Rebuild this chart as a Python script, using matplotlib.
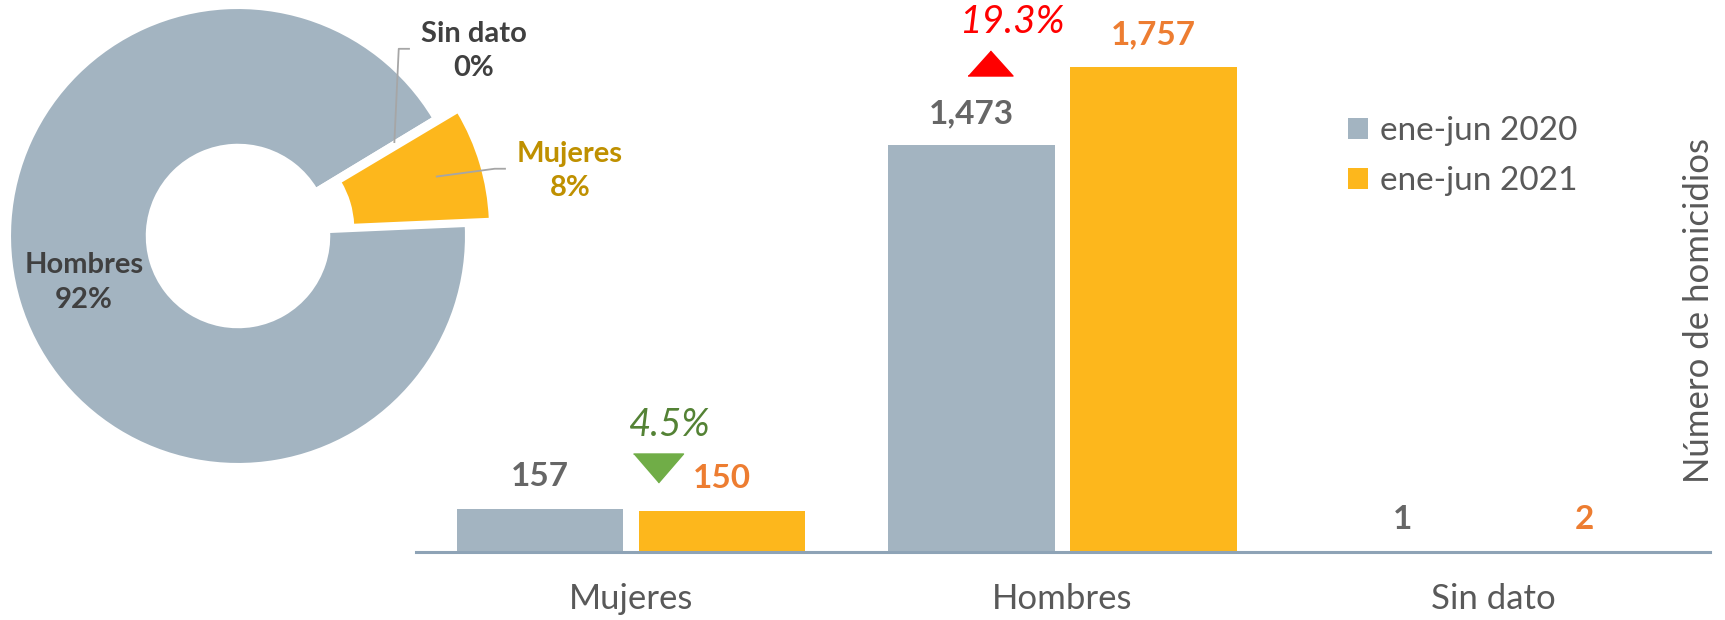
import matplotlib
matplotlib.use('Agg')
import matplotlib.pyplot as plt
import numpy as np

# ---------------- data ----------------
categories = ['Mujeres', 'Hombres', 'Sin dato']
series_names = ['ene-jun 2020', 'ene-jun 2021']
values_2020 = [157, 1473, 1]
values_2021 = [150, 1757, 2]
change_labels = ['4.5%', '19.3%']      # Mujeres (baja), Hombres (sube)
change_up = [False, True]
donut_labels = ['Mujeres', 'Hombres', 'Sin dato']
donut_values = values_2021
y_label = 'Número de homicidios'

plt.rcParams['font.family'] = ['Lato', 'DejaVu Sans']

W, H = 1725, 620
fig = plt.figure(figsize=(W / 100, H / 100), dpi=100)


def px_axes(left, top, width, height):
    return fig.add_axes([left / W, 1 - (top + height) / H, width / W, height / H])


C20 = '#A3B4C1'
C21 = '#FDB71C'
TXT = '#595959'

# ---------------- bar chart ----------------
ax = px_axes(415.5, 0, 1294, 552)
ax.patch.set_alpha(0)
x = np.arange(len(categories))
bw, off = 0.385, 0.211
b1 = ax.bar(x - off, values_2020, bw, color=C20, label=series_names[0], zorder=2, linewidth=0)
b2 = ax.bar(x + off, values_2021, bw, color=C21, label=series_names[1], zorder=2, linewidth=0)
ax.set_xlim(-0.5, 2.5)
ax.set_ylim(0, 2000)
for s in ['top', 'right', 'left', 'bottom']:
    ax.spines[s].set_visible(False)
ax.axhline(0, color='#8EA3B6', lw=2.2, zorder=3, clip_on=False)
ax.set_yticks([])
ax.set_xticks(x, categories)
ax.tick_params(axis='x', length=0, pad=22, labelsize=25, labelcolor=TXT)

for bars, vals, col in [(b1, values_2020, '#666666'), (b2, values_2021, '#ED7D31')]:
    for r, v in zip(bars, vals):
        ax.annotate(f'{v:,}', (r.get_x() + r.get_width() / 2, r.get_height()),
                    xytext=(0, 23), textcoords='offset points', ha='center', va='center',
                    fontsize=24, fontweight='bold', color=col)

# change markers
tri_up = [(-1, -0.556), (1, -0.556), (0, 0.556)]
tri_dn = [(-1, 0.58), (1, 0.58), (0, -0.58)]
change_x_off = [0.062, -0.169]
change_txt_off = [0.090, -0.117]
change_tri_y = [306, 1773]
change_txt_y = [460, 1920]
for i, (lab, up) in enumerate(zip(change_labels, change_up)):
    col_m = '#FF0000' if up else '#70AD47'
    col_t = '#FF0000' if up else '#548235'
    ax.plot([x[i] + change_x_off[i]], [change_tri_y[i]], ls='none',
            marker=tri_up if up else tri_dn, markersize=32.4 if up else 36,
            color=col_m, clip_on=False)
    ax.text(x[i] + change_txt_off[i], change_txt_y[i], lab, ha='center', va='center',
            fontsize=28 if up else 27.5, fontstyle='italic', color=col_t)

leg = ax.legend(handles=[b1, b2], loc='upper left', bbox_to_anchor=(1348 / W, 1 - 116 / H),
                bbox_transform=fig.transFigure, frameon=False, fontsize=24,
                handlelength=0.6, handleheight=0.6, handletextpad=0.35,
                labelspacing=0.6, borderpad=0, borderaxespad=0, labelcolor=TXT)

ax.yaxis.set_label_position('right')
ax.set_ylabel(y_label, fontsize=25, color=TXT, rotation=90)
ax.yaxis.set_label_coords((1699 - 415.5) / 1294, 1 - 310 / 552)
ax.yaxis.label.set_ha('center')
ax.yaxis.label.set_va('center')

# ---------------- donut ----------------
R = 228
cx, cy = 238, 236
half = 1.3 * R
pax = px_axes(cx - half, cy - half, 2 * half, 2 * half)
pax.set_zorder(ax.get_zorder() + 1)
wedges, _ = pax.pie(donut_values, colors=[C21, C20, '#7F7F7F'], startangle=30.8,
                    counterclock=False, explode=[0.11, 0, 0], radius=1,
                    wedgeprops=dict(width=0.6, edgecolor='white', linewidth=1.5))
pax.set_xlim(-1.3, 1.3)
pax.set_ylim(-1.3, 1.3)
pax.set_axis_off()
pax.patch.set_alpha(0)

total = sum(donut_values)
pcts = [f'{100 * v / total:.0f}%' for v in donut_values]
label_xy = [(1.456, 0.285), (-0.675, -0.204), (1.035, 0.811)]
label_col = ['#BF9000', '#404040', '#404040']
for i, (lab, p) in enumerate(zip(donut_labels, pcts)):
    lx, ly = label_xy[i]
    pax.text(lx, ly, f'{lab}\n{p}', ha='center', va='center', fontsize=21,
             fontweight='bold', color=label_col[i], linespacing=1.4)

for i in [0, 2]:
    w = wedges[i]
    th = np.deg2rad((w.theta1 + w.theta2) / 2)
    sx = w.center[0] + 0.8 * np.cos(th)
    sy = w.center[1] + 0.8 * np.sin(th)
    lx, ly = label_xy[i]
    pax.plot([sx, lx - 0.33, lx - 0.285], [sy, ly + 0.01, ly + 0.01],
             color='#A6A6A6', lw=1.3, clip_on=False, zorder=5)

fig.savefig('out.png', dpi=100)
